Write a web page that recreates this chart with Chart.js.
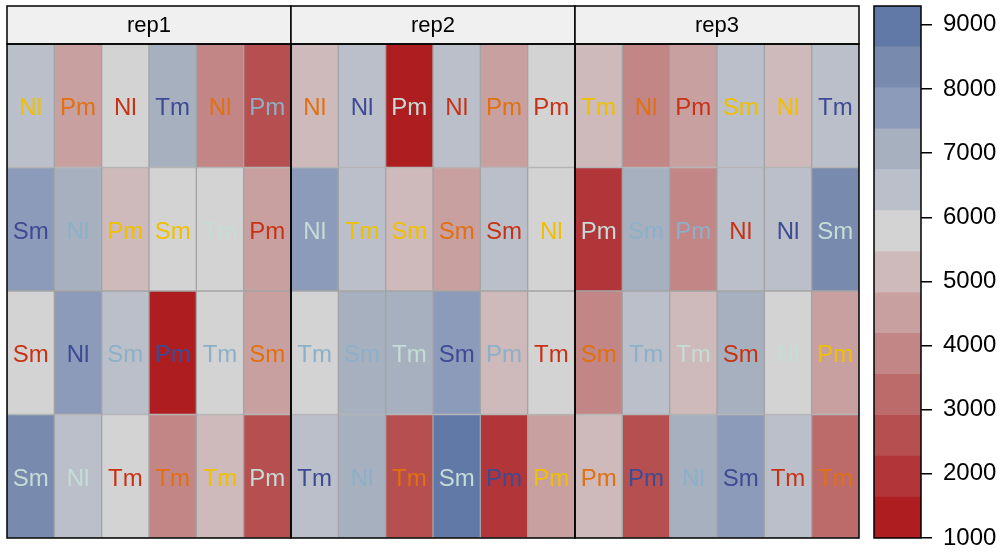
<!DOCTYPE html>
<html><head><meta charset="utf-8">
<script src="https://cdn.jsdelivr.net/npm/chart.js@4.4.1/dist/chart.umd.min.js"></script>
<style>
html,body{margin:0;padding:0;background:#fff;width:1005px;height:554px;overflow:hidden}
#main{position:absolute;left:0;top:0}
#key{position:absolute;left:860px;top:0}
</style>
</head><body>
<canvas id="main" width="870" height="554"></canvas>
<canvas id="key" width="145" height="554"></canvas>
<script>
// ---- data (rows listed top to bottom; 18 columns = 3 reps x 6 columns) ----
const reps = ['rep1', 'rep2', 'rep3'];
const colsPerRep = 6;

const yieldRow1 = [6420, 4510, 5790, 7060, 3870, 2600, 5150, 6430, 1320, 6410, 4500, 5780, 5140, 3880, 4520, 6440, 5160, 6400];
const yieldRow2 = [7700, 7050, 5150, 5800, 5790, 4500, 7690, 6420, 5150, 4510, 6430, 5780, 1960, 7070, 3860, 6410, 6420, 8340];
const yieldRow3 = [5790, 7710, 6430, 1010, 5780, 4510, 5800, 7060, 7070, 7690, 5150, 5790, 3870, 6420, 5150, 7050, 5780, 4500];
const yieldRow4 = [8330, 6420, 5790, 3870, 5150, 2600, 6430, 7060, 2590, 9290, 1950, 4520, 5140, 2600, 7070, 7700, 6420, 3230];

const genoRow1 = ['Nl','Pm','Nl','Tm','Nl','Pm', 'Nl','Nl','Pm','Nl','Pm','Pm', 'Tm','Nl','Pm','Sm','Nl','Tm'];
const genoRow2 = ['Sm','Nl','Pm','Sm','Tm','Pm', 'Nl','Tm','Sm','Sm','Sm','Nl', 'Pm','Sm','Pm','Nl','Nl','Sm'];
const genoRow3 = ['Sm','Nl','Sm','Pm','Tm','Sm', 'Tm','Sm','Tm','Sm','Pm','Tm', 'Sm','Tm','Tm','Sm','Nl','Pm'];
const genoRow4 = ['Sm','Nl','Tm','Tm','Tm','Pm', 'Tm','Nl','Tm','Sm','Pm','Pm', 'Pm','Pm','Nl','Sm','Tm','Tm'];

// text colour level per cell (index into levelColors)
const levelRow1 = [3,4,5,0,4,1, 4,0,2,5,4,5, 3,4,5,3,3,0];
const levelRow2 = [0,1,3,3,2,5, 2,3,3,4,5,3, 2,1,1,5,0,2];
const levelRow3 = [5,0,1,0,1,4, 1,1,2,0,1,5, 4,1,2,5,2,3];
const levelRow4 = [2,2,5,4,3,2, 0,1,4,2,0,3, 4,0,1,0,5,4];
const levelColors = ['#3D4A94', '#8CB0C8', '#C6DCD6', '#EEC000', '#E07010', '#C83214'];

// colour key
const binEdges = [1000, 1638, 2276, 2914, 3552, 4190, 4828, 5466, 6104, 6742, 7380, 8018, 8656, 9294];
const binColors = ['#AE1E20','#B23639','#B65050','#BD6A6B','#C38686','#C9A0A0','#CEBABA',
                   '#D3D3D3','#BBBFCA','#A6B0BF','#8C9BB9','#788AAE','#6079A6'];
const keyTicks = [1000, 2000, 3000, 4000, 5000, 6000, 7000, 8000, 9000];

// ---- build ----
const FONT = '"Liberation Sans", Arial, sans-serif';
const yieldRows = [yieldRow1, yieldRow2, yieldRow3, yieldRow4];
const genoRows = [genoRow1, genoRow2, genoRow3, genoRow4];
const levelRows = [levelRow1, levelRow2, levelRow3, levelRow4];

function binColor(v) {
  for (let i = 0; i < binColors.length; i++) {
    if (v < binEdges[i + 1]) return binColors[i];
  }
  return binColors[binColors.length - 1];
}

const colLabels = [];
reps.forEach(r => { for (let c = 1; c <= colsPerRep; c++) colLabels.push(r + '-' + c); });

const datasets = yieldRows.map((row, r) => ({
  data: row.map(() => [r, r + 1]),
  backgroundColor: row.map(binColor),
  borderColor: '#A4A4A4',
  borderWidth: 1,
  borderSkipped: false,
  barPercentage: 1,
  categoryPercentage: 1,
  grouped: false
}));

const cellText = {
  id: 'cellText',
  afterDatasetsDraw(chart) {
    const ctx = chart.ctx;
    ctx.save();
    ctx.font = '24px ' + FONT;
    ctx.textAlign = 'center';
    ctx.textBaseline = 'middle';
    chart.data.datasets.forEach((ds, r) => {
      chart.getDatasetMeta(r).data.forEach((el, i) => {
        const p = el.getProps(['x', 'y', 'base'], true);
        ctx.fillStyle = levelColors[levelRows[r][i]];
        ctx.fillText(genoRows[r][i], p.x, (p.y + p.base) / 2 + 3);
      });
    });
    ctx.restore();
  }
};

const panels = {
  id: 'panels',
  afterDraw(chart) {
    const ctx = chart.ctx, xs = chart.scales.x, ca = chart.chartArea;
    const cw = xs.getPixelForValue(1) - xs.getPixelForValue(0);
    const stripTop = 6;
    ctx.save();
    reps.forEach((rep, p) => {
      const left = xs.getPixelForValue(p * colsPerRep) - cw / 2;
      const right = xs.getPixelForValue(p * colsPerRep + colsPerRep - 1) + cw / 2;
      ctx.fillStyle = '#F0F0F0';
      ctx.fillRect(left, stripTop, right - left, ca.top - stripTop);
      ctx.strokeStyle = '#000';
      ctx.lineWidth = 1.5;
      ctx.strokeRect(left, stripTop, right - left, ca.top - stripTop);
      ctx.strokeRect(left, ca.top, right - left, ca.bottom - ca.top);
      ctx.fillStyle = '#000';
      ctx.font = '22px ' + FONT;
      ctx.textAlign = 'center';
      ctx.textBaseline = 'middle';
      ctx.fillText(rep, (left + right) / 2, (stripTop + ca.top) / 2 + 1);
    });
    ctx.restore();
  }
};

new Chart(document.getElementById('main'), {
  type: 'bar',
  data: { labels: colLabels, datasets },
  options: {
    responsive: false, animation: false, devicePixelRatio: 1,
    layout: { padding: { left: 7, right: 11, top: 44, bottom: 16 } },
    plugins: { legend: { display: false }, tooltip: { enabled: false } },
    scales: {
      x: { type: 'category', display: false, offset: true, grid: { display: false } },
      y: { type: 'linear', min: 0, max: 4, reverse: true, display: false }
    }
  },
  plugins: [cellText, panels]
});

const keyOutline = {
  id: 'keyOutline',
  afterDatasetsDraw(chart) {
    const ctx = chart.ctx, ca = chart.chartArea;
    ctx.save();
    ctx.strokeStyle = '#000';
    ctx.lineWidth = 1.5;
    ctx.strokeRect(ca.left, ca.top, ca.right - ca.left, ca.bottom - ca.top);
    ctx.restore();
  }
};

new Chart(document.getElementById('key'), {
  type: 'bar',
  data: {
    labels: ['key'],
    datasets: binColors.map((c, i) => ({
      data: [[binEdges[i], binEdges[i + 1]]],
      backgroundColor: c, borderWidth: 0,
      barPercentage: 1, categoryPercentage: 1, grouped: false
    }))
  },
  options: {
    responsive: false, animation: false, devicePixelRatio: 1,
    layout: { padding: { left: 14, right: 0, top: 6, bottom: 16 } },
    plugins: { legend: { display: false }, tooltip: { enabled: false } },
    scales: {
      x: { display: false },
      y: {
        position: 'right',
        min: binEdges[0], max: binEdges[binEdges.length - 1],
        afterBuildTicks: s => { s.ticks = keyTicks.map(v => ({ value: v })); },
        ticks: { color: '#000', font: { size: 24, family: FONT }, padding: 11, callback: v => String(v) },
        grid: { drawOnChartArea: false, tickLength: 11, color: '#000', lineWidth: 1.5 },
        border: { display: false },
        afterFit: s => { s.width = 84; s.paddingTop = 0; s.paddingBottom = 0; }
      }
    }
  },
  plugins: [keyOutline]
});
</script>
</body></html>
